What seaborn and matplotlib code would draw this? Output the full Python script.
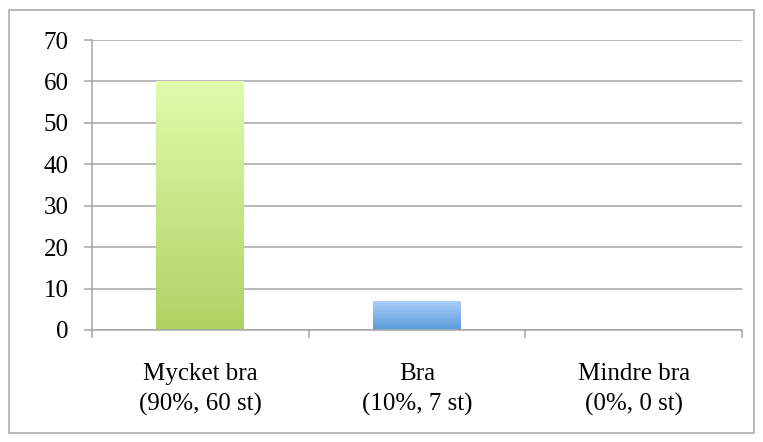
import numpy as np
import pandas as pd
import matplotlib
matplotlib.use("Agg")
import matplotlib.pyplot as plt
import seaborn as sns
from matplotlib.colors import LinearSegmentedColormap
from matplotlib.patches import Rectangle

# data
categories = ["Mycket bra\n(90%, 60 st)", "Bra\n(10%, 7 st)", "Mindre bra\n(0%, 0 st)"]
counts = [60, 7, 0]
y_ticks = [0, 10, 20, 30, 40, 50, 60, 70]

# top / bottom colours of each bar's gradient
bar_gradients = [("#e0fbab", "#b0d263"), ("#a9cdfa", "#5b9bd9"), ("#ffffff", "#ffffff")]
grid_color = "#a6a6a6"


def main():
    sns.set_style("white")
    plt.rcParams["font.family"] = ["Liberation Serif", "DejaVu Serif"]

    df = pd.DataFrame({"category": categories, "count": counts})

    fig = plt.figure(figsize=(7.63, 4.42), dpi=100)
    ax = fig.add_axes([92 / 763, 112 / 442, 650 / 763, 290 / 442])

    sns.barplot(data=df, x="category", y="count", width=0.406, color="white",
                linewidth=0, ax=ax, zorder=2)

    # paint a vertical gradient inside each bar
    for patch, (top, bottom) in zip(ax.patches, bar_gradients):
        x0, y0 = patch.get_x(), patch.get_y()
        w, h = patch.get_width(), patch.get_height()
        if h <= 0:
            continue
        cmap = LinearSegmentedColormap.from_list("g", [bottom, top])
        grad = np.linspace(0, 1, 256).reshape(-1, 1)
        im = ax.imshow(grad, extent=[x0, x0 + w, y0, y0 + h], origin="lower",
                       aspect="auto", cmap=cmap, zorder=3)
        im.set_clip_path(patch)

    ax.set_xlim(-0.5, 2.5)
    ax.set_ylim(0, 70)
    ax.set_yticks(y_ticks)
    ax.set_xlabel("")
    ax.set_ylabel("")

    ax.yaxis.grid(True, color=grid_color, linewidth=1.1)
    ax.set_axisbelow(True)
    for side in ["top", "right"]:
        ax.spines[side].set_visible(False)
    for side in ["left", "bottom"]:
        ax.spines[side].set_color(grid_color)
        ax.spines[side].set_linewidth(1.1)
    ax.spines["bottom"].set_zorder(4)

    # labels centred under the bars, tick marks on the category borders
    ax.set_xticks([-0.5, 0.5, 1.5, 2.5], minor=True)
    ax.tick_params(axis="x", which="major", length=0, pad=24, labelsize=18,
                   colors="black")
    ax.tick_params(axis="x", which="minor", length=6, width=1.1, color=grid_color,
                   direction="out", bottom=True)
    ax.tick_params(axis="y", length=6, width=1.1, color=grid_color, pad=11,
                   labelsize=18, left=True, labelcolor="black")
    for lbl in ax.get_xticklabels():
        lbl.set_linespacing(1.42)

    # outer chart border
    fig.patches.append(Rectangle((9 / 763, 9 / 442), 745 / 763, 423 / 442,
                                 transform=fig.transFigure, fill=False,
                                 edgecolor="#a6a6a6", linewidth=1.1))

    fig.savefig("out.png", dpi=100)


if __name__ == "__main__":
    main()
